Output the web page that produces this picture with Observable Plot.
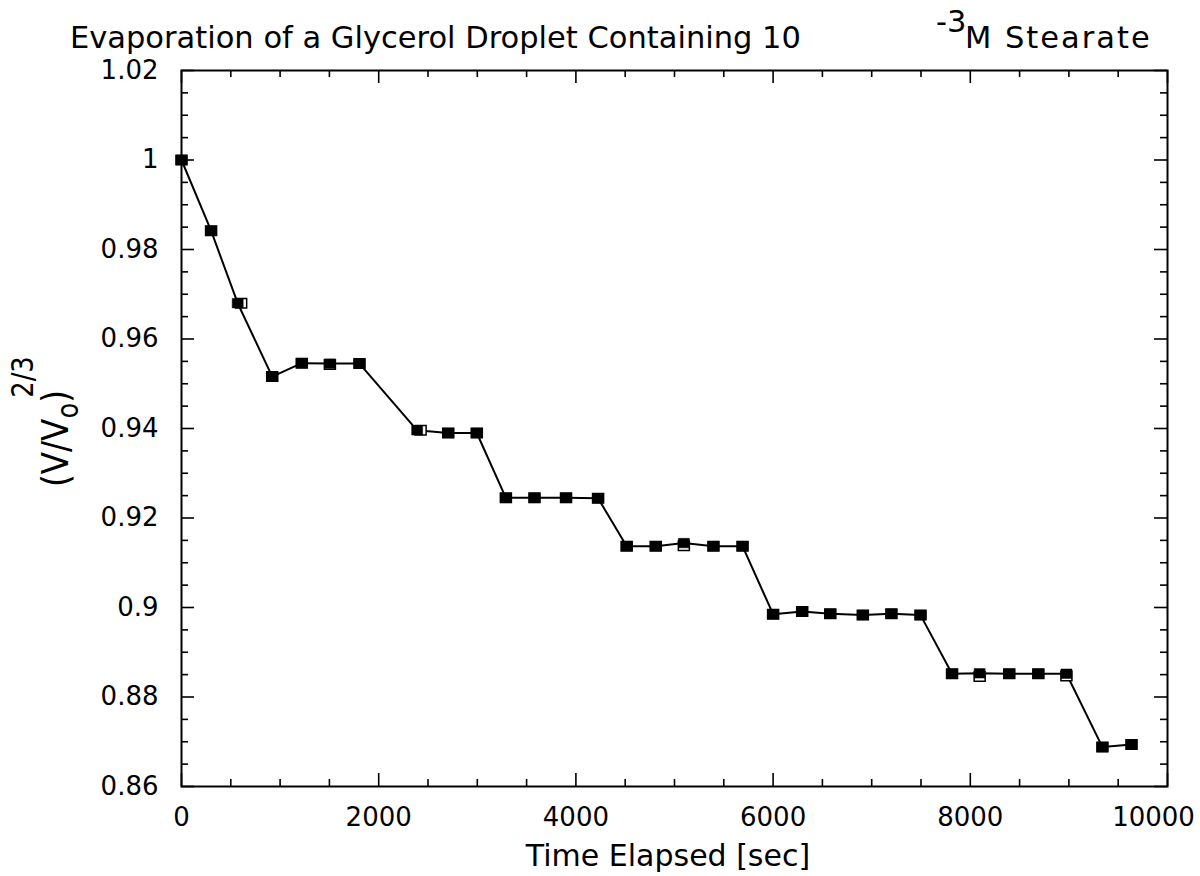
<!DOCTYPE html>
<html>
<head>
<meta charset="utf-8">
<script src="https://cdn.jsdelivr.net/npm/d3@7"></script>
<script src="https://cdn.jsdelivr.net/npm/@observablehq/plot@0.6"></script>
<style>
  body { margin: 0; background: #fff; }
  #chart { position: relative; width: 1200px; height: 876px; font-family: "DejaVu Sans", sans-serif; color: #000; }
  #title { position: relative; height: 58px; }
  #title span { position: absolute; white-space: nowrap; line-height: 1; }
  #chart svg { display: block; }
</style>
</head>
<body>
<div id="chart">
  <div id="title"></div>
</div>
<script>
// Elapsed time [s] and normalised droplet size (V/Vo)^(2/3), filled-square run
const timeSec = [0, 300, 570, 920, 1220, 1505, 1805, 2390, 2705, 2995, 3290, 3580, 3900, 4225,
  4515, 4810, 5095, 5395, 5690, 6000, 6295, 6580, 6910, 7200, 7495, 7815, 8095, 8395, 8690,
  8975, 9340, 9635];
const ratio = [1.0, 0.9842, 0.968, 0.9516, 0.9546, 0.9545, 0.9545, 0.9396, 0.939, 0.939,
  0.9245, 0.9245, 0.9245, 0.9244, 0.9137, 0.9137, 0.9144, 0.9137, 0.9137, 0.8985, 0.8991,
  0.8986, 0.8983, 0.8986, 0.8983, 0.8852, 0.8853, 0.8852, 0.8852, 0.8852, 0.8688, 0.8694];

// Open-square run (repeat measurement)
const timeSecOpen = [0, 300, 605, 920, 1220, 1505, 1805, 2425, 2705, 2995, 3290, 3580, 3900, 4225,
  4515, 4810, 5095, 5395, 5690, 6000, 6295, 6580, 6910, 7200, 7495, 7815, 8095, 8395, 8690,
  8975, 9340, 9635];
const ratioOpen = [1.0, 0.9842, 0.968, 0.9516, 0.9546, 0.9543, 0.9545, 0.9396, 0.939, 0.939,
  0.9245, 0.9245, 0.9245, 0.9244, 0.9137, 0.9137, 0.9138, 0.9137, 0.9137, 0.8985, 0.8991,
  0.8986, 0.8983, 0.8986, 0.8983, 0.8852, 0.8846, 0.8852, 0.8852, 0.8847, 0.8688, 0.8694];

// Axis ticks
const xMajorTicks = [0, 2000, 4000, 6000, 8000, 10000];
const xMinorTicks = [500, 1000, 1500, 2500, 3000, 3500, 4500, 5000, 5500, 6500, 7000, 7500,
  8500, 9000, 9500];
const yMajorTicks = [0.86, 0.88, 0.9, 0.92, 0.94, 0.96, 0.98, 1.0, 1.02];
const yMinorTicks = [0.865, 0.87, 0.875, 0.885, 0.89, 0.895, 0.905, 0.91, 0.915, 0.925, 0.93,
  0.935, 0.945, 0.95, 0.955, 0.965, 0.97, 0.975, 0.985, 0.99, 0.995, 1.005, 1.01, 1.015];

const titleMain = "Evaporation of a Glycerol Droplet Containing 10";
const titleExp = "-3";
const titleTail = "M Stearate";
const xLabel = "Time Elapsed [sec]";

const xDomain = [0, 10000];
const yDomain = [0.86, 1.02];

const filled = timeSec.map((t, i) => ({t, v: ratio[i]}));
const open = timeSecOpen.map((t, i) => ({t, v: ratioOpen[i]}));

// Title, with the exponent raised
const title = document.getElementById("title");
[[titleMain, 70, 23, 30.5, 0], [titleExp, 936, 7, 30.5, 0], [titleTail, 965, 23, 30.5, 2]].forEach(([s, left, top, fs, ls]) => {
  const span = document.createElement("span");
  span.textContent = s;
  span.style.left = left + "px";
  span.style.top = top + "px";
  span.style.fontSize = fs + "px";
  span.style.letterSpacing = ls + "px";
  title.appendChild(span);
});

// Rectangular marker, slightly wider than tall
const rectSymbol = {draw(ctx) { ctx.moveTo(-5.5, -4.75); ctx.lineTo(5.5, -4.75); ctx.lineTo(5.5, 4.75); ctx.lineTo(-5.5, 4.75); ctx.closePath(); }};

const MAJOR = 13, MINOR = 7, TW = 1.6;
const TICK_FONT = 26;

const plot = Plot.plot({
  width: 1200,
  height: 818,
  marginLeft: 181,
  marginRight: 33,
  marginTop: 12,
  marginBottom: 90,
  style: {fontFamily: "DejaVu Sans, sans-serif", color: "#000", background: "#fff", overflow: "visible"},
  x: {domain: xDomain},
  y: {domain: yDomain},
  marks: [
    // inward ticks on all four sides
    Plot.ruleX(xMinorTicks, {x: d => d, y1: yDomain[0], y2: yDomain[0], insetTop: -MINOR, strokeWidth: TW}),
    Plot.ruleX(xMajorTicks, {x: d => d, y1: yDomain[0], y2: yDomain[0], insetTop: -MAJOR, strokeWidth: TW}),
    Plot.ruleX(xMinorTicks, {x: d => d, y1: yDomain[1], y2: yDomain[1], insetBottom: -MINOR, strokeWidth: TW}),
    Plot.ruleX(xMajorTicks, {x: d => d, y1: yDomain[1], y2: yDomain[1], insetBottom: -MAJOR, strokeWidth: TW}),
    Plot.ruleY(yMinorTicks, {y: d => d, x1: xDomain[0], x2: xDomain[0], insetRight: -MINOR, strokeWidth: TW}),
    Plot.ruleY(yMajorTicks, {y: d => d, x1: xDomain[0], x2: xDomain[0], insetRight: -MAJOR, strokeWidth: TW}),
    Plot.ruleY(yMinorTicks, {y: d => d, x1: xDomain[1], x2: xDomain[1], insetLeft: -MINOR, strokeWidth: TW}),
    Plot.ruleY(yMajorTicks, {y: d => d, x1: xDomain[1], x2: xDomain[1], insetLeft: -MAJOR, strokeWidth: TW}),
    Plot.frame({stroke: "#000", strokeWidth: 2}),
    // tick labels; the last x label is pulled in so it stays on the page
    Plot.axisX({ticks: xMajorTicks.slice(0, -1), tickSize: 0, tickPadding: 21, fontSize: TICK_FONT, label: null, tickFormat: d => String(d)}),
    Plot.axisX({ticks: xMajorTicks.slice(-1), tickSize: 0, tickPadding: 21, fontSize: TICK_FONT, label: null, dx: -14, tickFormat: d => String(d)}),
    Plot.axisY({ticks: yMajorTicks, tickSize: 0, tickPadding: 23, fontSize: TICK_FONT, label: null, tickFormat: d => String(+d.toFixed(2))}),
    Plot.line(filled, {x: "t", y: "v", stroke: "#000", strokeWidth: 2}),
    Plot.dot(open, {x: "t", y: "v", symbol: rectSymbol, fill: "#fff", stroke: "#000", strokeWidth: 1.5}),
    Plot.dot(filled, {x: "t", y: "v", symbol: rectSymbol, fill: "#000", stroke: "#000", strokeWidth: 0.5})
  ]
});

document.getElementById("chart").appendChild(plot);

// Axis titles
const svg = d3.select(plot);
svg.append("text")
  .attr("x", 668).attr("y", 808)
  .attr("text-anchor", "middle")
  .attr("font-size", 30)
  .attr("fill", "#000")
  .text(xLabel);

// (V/Vo)^(2/3), set vertically with a sub- and superscript
const yl = svg.append("text")
  .attr("transform", "translate(68,429) rotate(-90) scale(0.86,1)")
  .attr("text-anchor", "start")
  .attr("font-size", 38)
  .attr("fill", "#000");
yl.append("tspan").text("(V/V");
yl.append("tspan").attr("dy", 10).attr("font-size", 30).text("o");
yl.append("tspan").attr("dy", -10).text(")");
yl.append("tspan").attr("dy", -35).attr("dx", -9).attr("font-size", 30).text("2/3");
</script>
</body>
</html>
